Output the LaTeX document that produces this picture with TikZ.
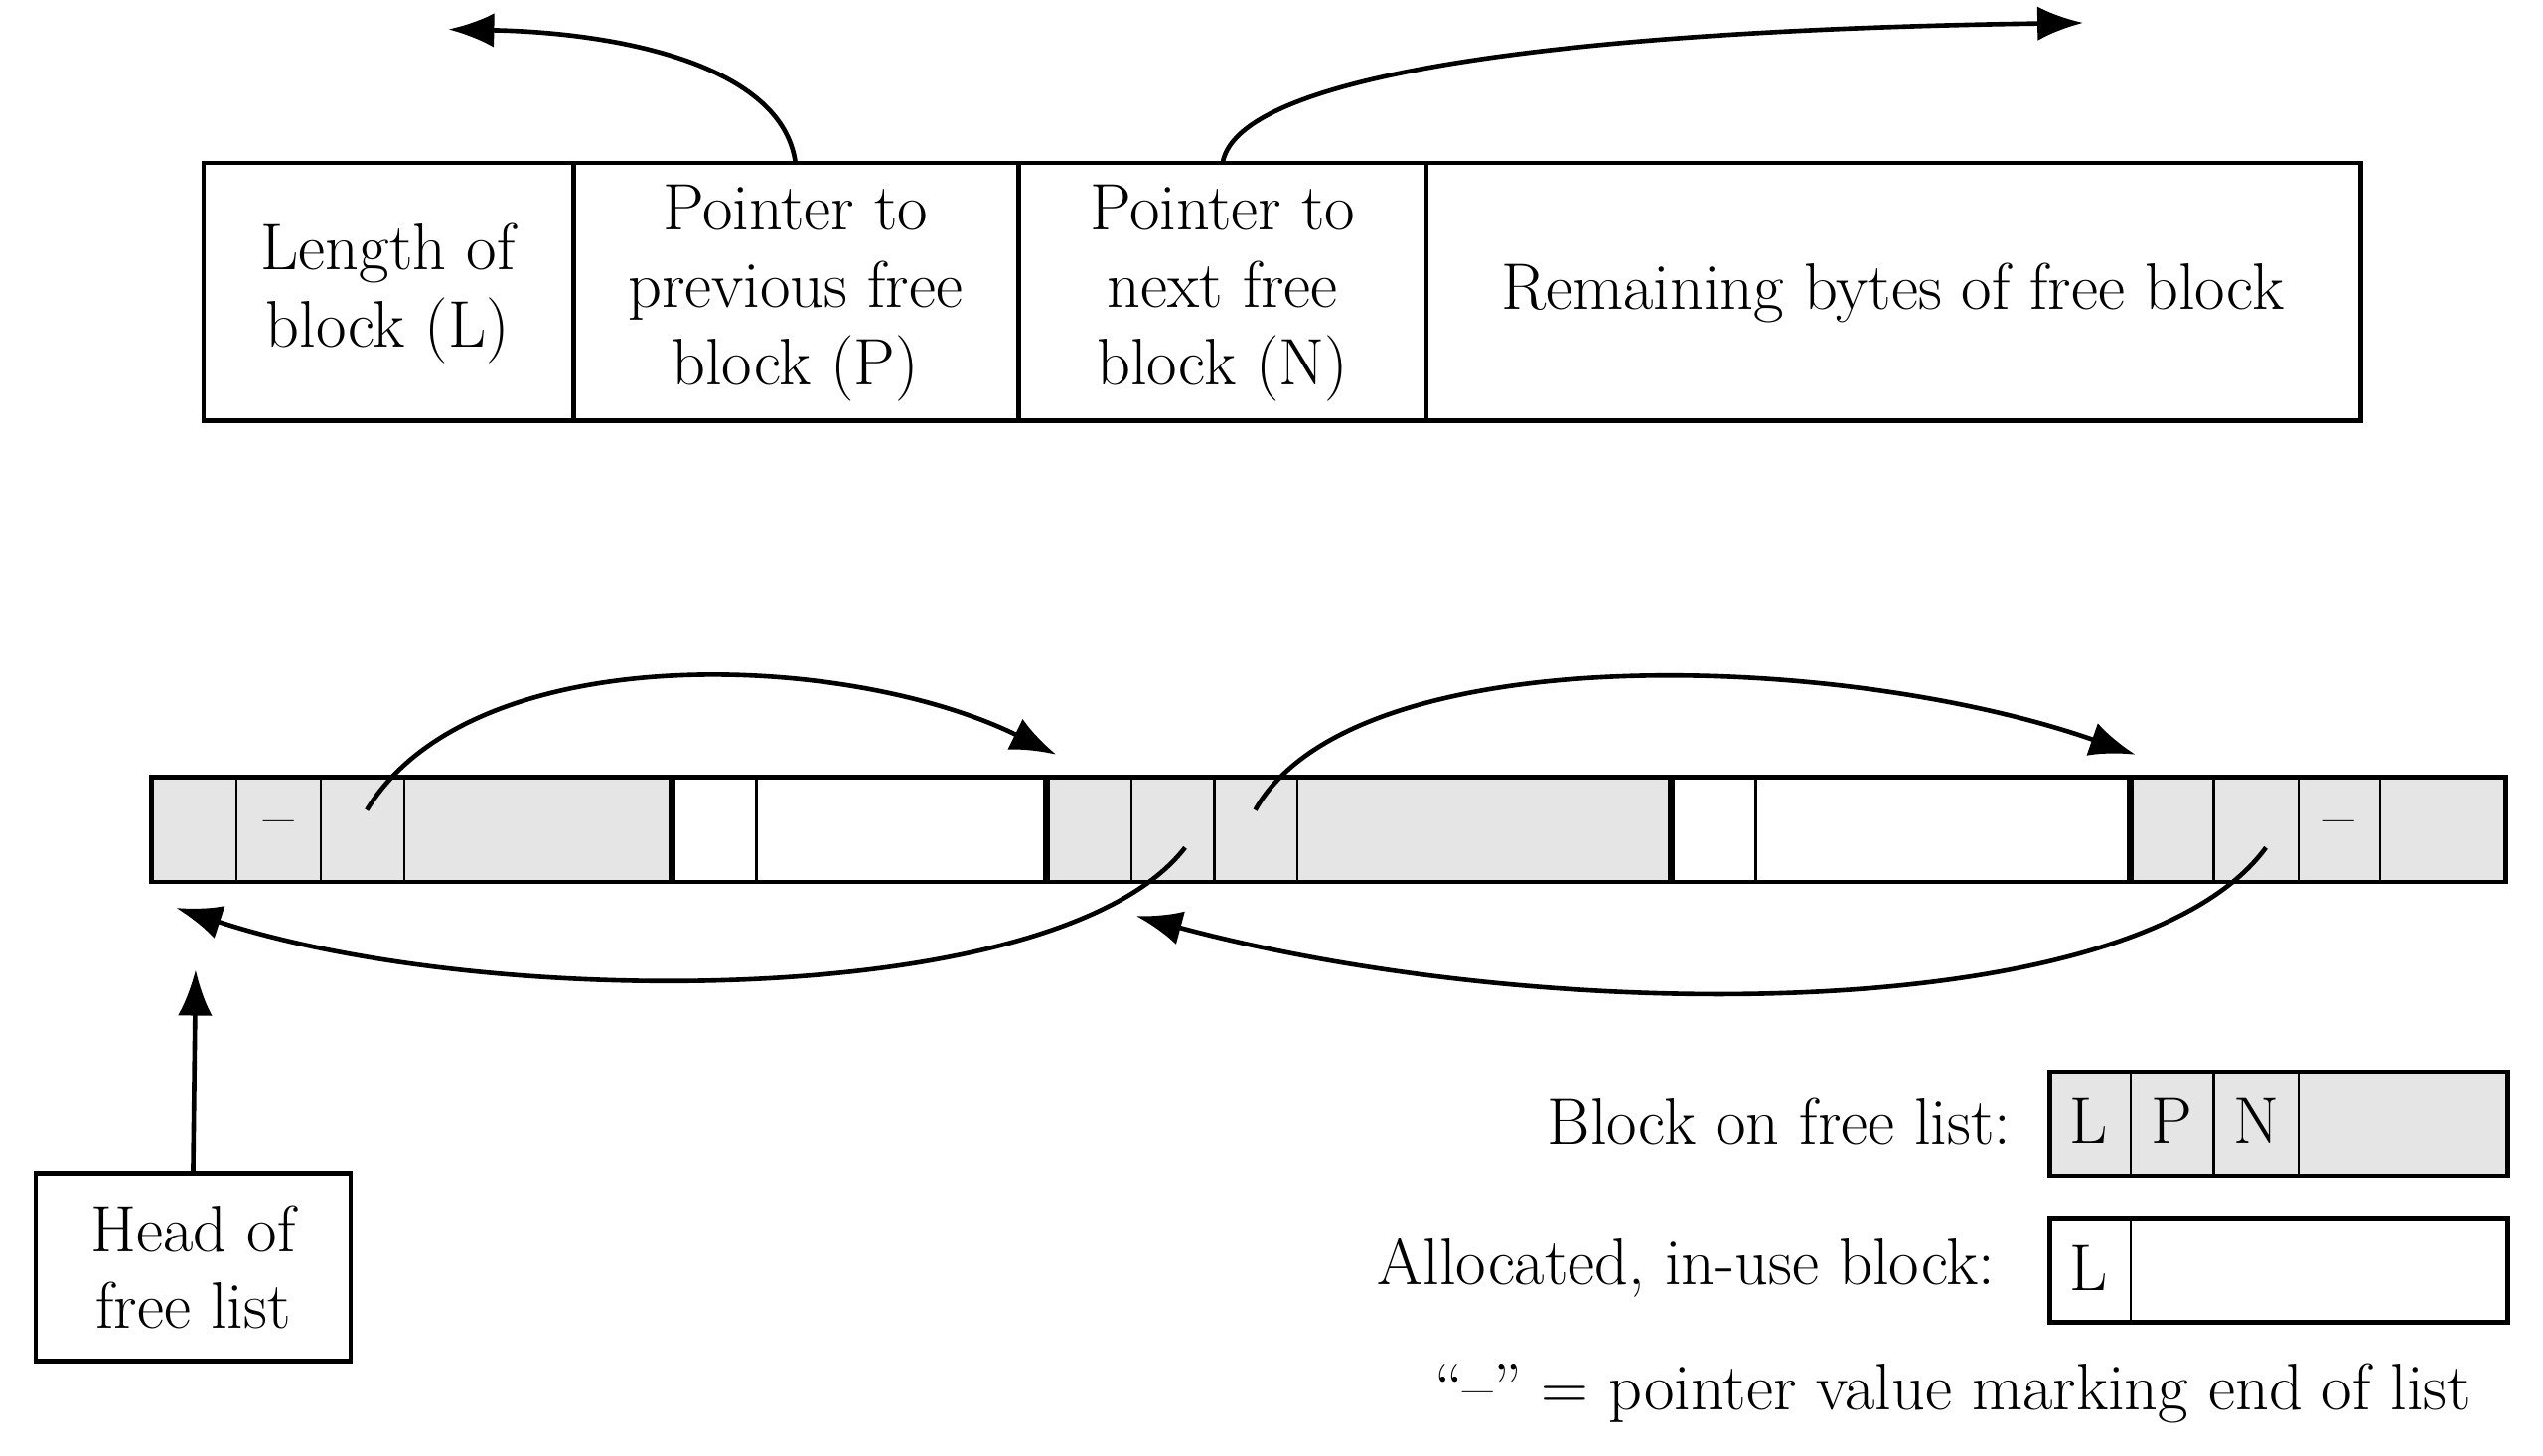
\documentclass[tikz,border=0pt]{standalone}
\usepackage{tikz}
\usetikzlibrary{arrows.meta,positioning,calc}
\begin{document}
\begin{tikzpicture}[x=0.02cm,y=-0.02cm,line width=1.6pt,font=\fontsize{23}{27}\selectfont]
\tikzset{
  cell/.style = {draw,line width=1.6pt,fill=gray!20,anchor=north west,inner sep=0},
  wcell/.style = {cell,fill=white},
  lbl/.style = {align=center,inner sep=0},
  ptr/.style = {-{Latex[length=16pt,width=12pt]},line width=1.6pt}
}
\useasboundingbox (0,0) rectangle (1560,893);

%% layout of a free block
\draw (125,100) rectangle (1448,258);
\draw (352,100) -- (352,258) (625,100) -- (625,258) (875,100) -- (875,258);
\node[lbl] (len)  at (238,180) {Length of\\block (L)};
\node[lbl] (prev) at (488,180) {Pointer to\\previous free\\block (P)};
\node[lbl] (next) at (750,180) {Pointer to\\next free\\block (N)};
\node[lbl] (rest) at (1161,180) {Remaining bytes of free block};
\coordinate (ptop) at (488,100);
\coordinate (ntop) at (750,100);
\coordinate (pend) at (275,18);
\coordinate (nend) at (1278,14);
\draw[ptr] (ptop) .. controls (480,40) and (380,20) .. (pend);
\draw[ptr] (ntop) .. controls (760,40) and (1000,18) .. (nend);

%% heap strip
\fill[gray!20] (93,477) rectangle (412,541) (642,477) rectangle (1025,541) (1307,477) rectangle (1537,541);
\draw (93,477) rectangle (1537,541);
\foreach \x in {145,197,248,464,694,745,796,1077,1358,1410,1460}
  \draw[line width=0.8pt] (\x,477) -- (\x,541);
\foreach \x in {412,642,1025,1307}
  \draw[line width=2.4pt] (\x,477) -- (\x,541);
\node[lbl] (endA) at (171,509) {--};
\node[lbl] (endB) at (1435,509) {--};
\coordinate (n1) at (225,497);
\coordinate (n2) at (770,497);
\coordinate (p2) at (727,520);
\coordinate (p3) at (1390,520);
\coordinate (b1) at (108,557);
\coordinate (b2) at (697,562);
\coordinate (b2t) at (648,463);
\coordinate (b3t) at (1310,463);
\draw[ptr] (n1) .. controls (290,390) and (520,400) .. (b2t);
\draw[ptr] (n2) .. controls (830,390) and (1130,400) .. (b3t);
\draw[ptr] (p2) .. controls (650,620) and (300,620) .. (b1);
\draw[ptr] (p3) .. controls (1310,630) and (950,630) .. (b2);

%% head of list
\node[draw,lbl,minimum width=193*0.02cm,minimum height=115*0.02cm] (head) at (118.5,777.5) {Head of\\free list};
\draw[ptr] (head.north) -- (120,595);

%% legend
\node[cell,minimum width=281*0.02cm,minimum height=64*0.02cm] (lfree) at (1256,656) {};
\foreach \x in {1307,1358,1410} \draw[line width=0.8pt] (\x,656) -- (\x,720);
\node[lbl] at (1281,688) {L};
\node[lbl] at (1332,688) {P};
\node[lbl] at (1384,688) {N};
\node[lbl,anchor=east] (tfree) at (1235,688) {Block on free list:};
\node[wcell,minimum width=281*0.02cm,minimum height=64*0.02cm] (lused) at (1256,746) {};
\draw[line width=0.8pt] (1307,746) -- (1307,810);
\node[lbl] at (1281,778) {L};
\node[lbl,anchor=east] (tused) at (1225,778) {Allocated, in-use block:};
\node[lbl,anchor=east] (note) at (1517,855) {``--'' = pointer value marking end of list};
\end{tikzpicture}
\end{document}
